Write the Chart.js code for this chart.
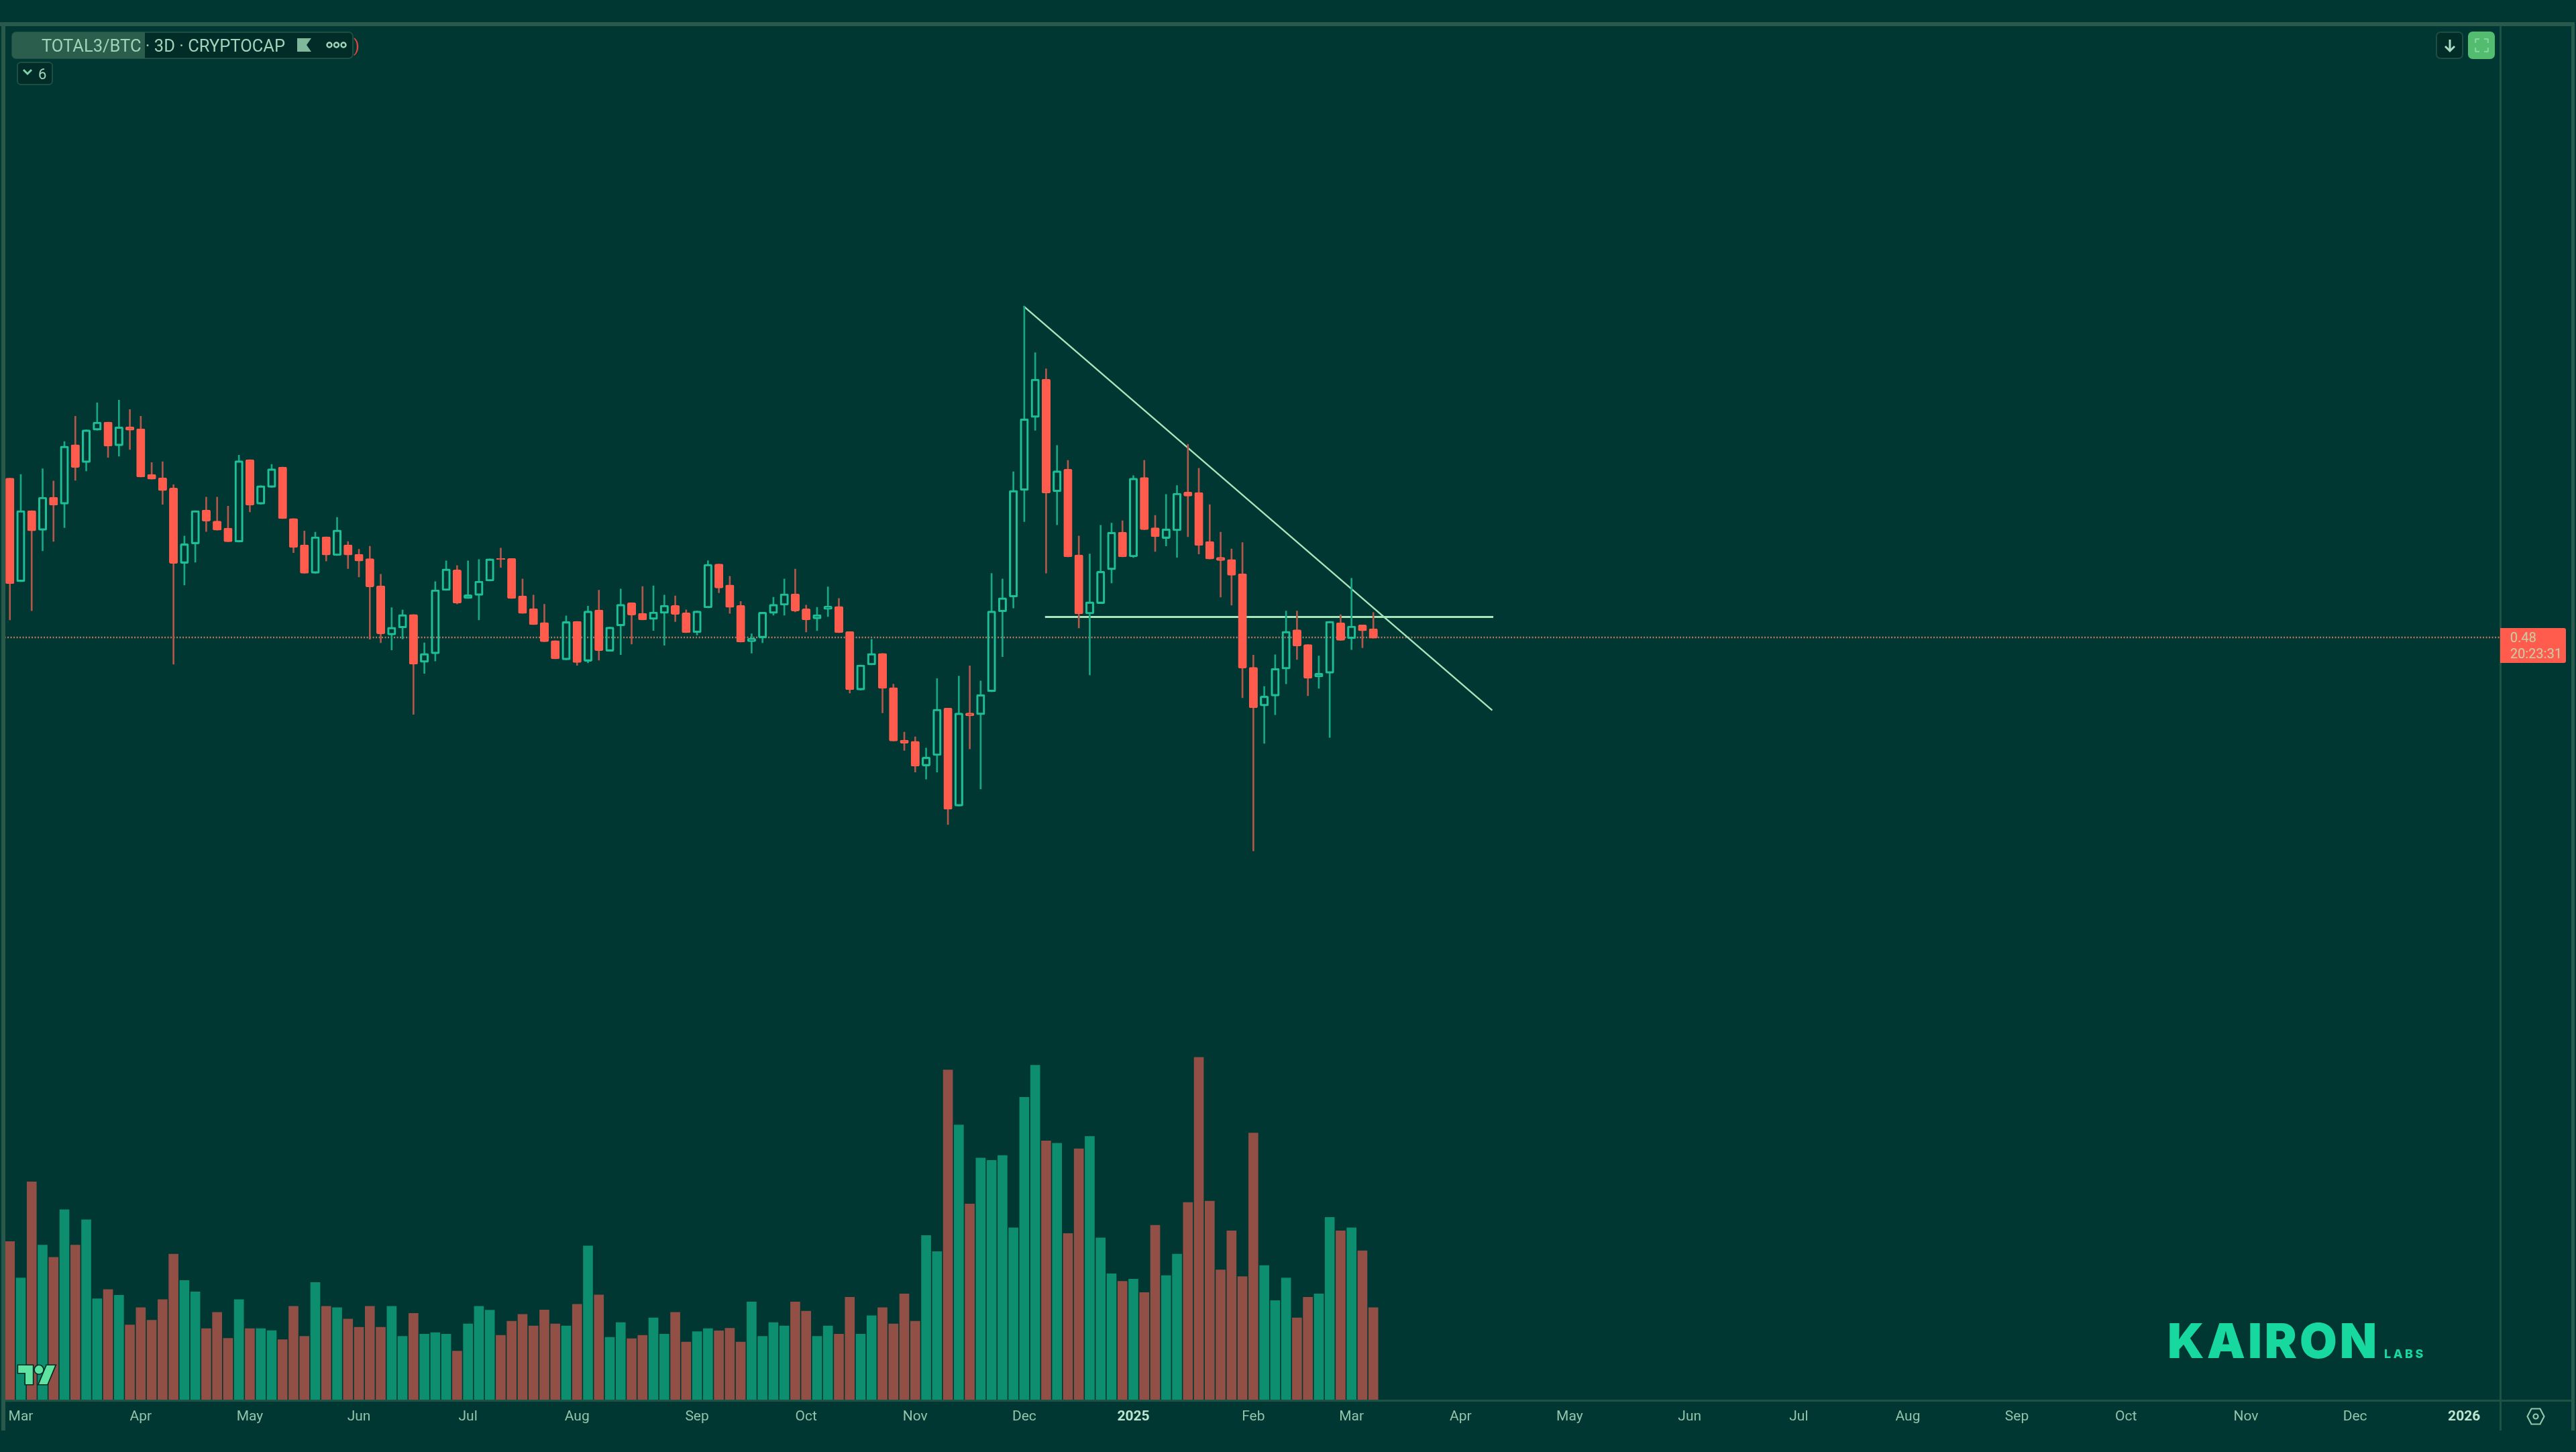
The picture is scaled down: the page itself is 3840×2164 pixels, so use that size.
<!DOCTYPE html>
<html>
<head>
<meta charset="utf-8">
<title>TOTAL3/BTC</title>
<script src="https://cdn.jsdelivr.net/npm/chart.js@4"></script>
<style>
  html, body { margin: 0; padding: 0; background: #013732; }
  #wrap { position: relative; width: 3840px; height: 2164px; overflow: hidden; font-family: Roboto, sans-serif; }
  #wrap canvas { position: absolute; left: 0; top: 0; }
  .abs { position: absolute; box-sizing: border-box; white-space: nowrap; }
  .frame { background: #28594a; }
</style>
</head>
<body>
<div id="wrap">
  <canvas id="myChart" width="3840" height="2164"></canvas>

  <div class="abs frame" style="left:0;top:33px;width:3838px;height:6px"></div>
  <div class="abs frame" style="left:2px;top:33px;width:6px;height:2099px"></div>
  <div class="abs frame" style="left:3833px;top:33px;width:5px;height:2099px"></div>
  <div class="abs" style="left:3726px;top:39px;width:3px;height:2093px;background:#1d5245"></div>
  <div class="abs" style="left:8px;top:2086px;width:3825px;height:3px;background:#1d5245"></div>

  <div class="abs" style="left:17px;top:47px;width:510px;height:41px;background:#012c28;border:2px solid #1d4e41;border-radius:7px"></div>
  <div class="abs" style="left:18px;top:48px;width:198px;height:39px;background:#2b5e4c;border-radius:6px 0 0 6px"></div>
  <div class="abs" style="left:62px;top:52px;font-size:25.500px;line-height:32px;color:#a0d3b8">TOTAL3/BTC · 3D · CRYPTOCAP</div>
  <svg class="abs" style="left:443px;top:56px" width="22" height="22"><path d="M0 1H21L14 11L21 21H0Z" fill="#7fb89b"/></svg>
  <svg class="abs" style="left:486px;top:60px" width="32" height="14"><g fill="none" stroke="#a0d3b8" stroke-width="2.500"><circle cx="5" cy="7" r="3.5"/><circle cx="15.500" cy="7" r="3.500"/><circle cx="26" cy="7" r="3.500"/></g></svg>
  <div class="abs" style="left:527px;top:52px;font-size:26px;line-height:32px;color:#e0453f">)</div>
  <div class="abs" style="left:25px;top:92px;width:54px;height:35px;background:#012c28;border:2px solid #1d4e41;border-radius:6px"></div>
  <svg class="abs" style="left:33px;top:102px" width="16" height="12"><path d="M2 2L8 8L14 2" fill="none" stroke="#7fd0ab" stroke-width="3"/></svg>
  <div class="abs" style="left:57px;top:97px;font-size:22px;line-height:28px;color:#a0d3b8">6</div>

  <div class="abs" style="left:3631px;top:47px;width:41px;height:41px;background:#012c28;border:2px solid #1d4e41;border-radius:7px"></div>
  <svg class="abs" style="left:3641px;top:57px" width="22" height="22"><path d="M11 2V19M4 12L11 19L18 12" fill="none" stroke="#a9dcc0" stroke-width="3"/></svg>
  <div class="abs" style="left:3679px;top:47px;width:40px;height:41px;background:#52bd6e;border-radius:7px"></div>
  <svg class="abs" style="left:3689px;top:57px" width="21" height="21"><path d="M1 7V3Q1 1 3 1H7M14 1H18Q20 1 20 3V7M20 14V18Q20 20 18 20H14M7 20H3Q1 20 1 18V14" fill="none" stroke="#86d49b" stroke-width="2.500"/></svg>

  <div class="abs" style="left:3727px;top:936px;width:98px;height:52px;background:#ff5c4d;border-radius:0 3px 3px 0"></div>
  <div class="abs" style="left:3742px;top:938px;font-size:20px;line-height:24px;color:#c9cba6">0.48</div>
  <div class="abs" style="left:3742px;top:962px;font-size:20px;line-height:24px;color:#c9cba6">20:23:31</div>

  <svg class="abs" style="left:3766px;top:2098px" width="28" height="26"><path d="M7.500 1.500H20.500L26.500 13L20.500 24.500H7.500L1.500 13Z" fill="none" stroke="#90c7a8" stroke-width="2.200"/><circle cx="14" cy="13" r="3.500" fill="none" stroke="#90c7a8" stroke-width="2.200"/></svg>

  <svg class="abs" style="left:25px;top:2032px" width="60" height="34" viewBox="-1 2 38 22"><g fill="#5fe3a0" stroke="#012c28" stroke-width="2.200" paint-order="stroke"><path d="M14 22H7V11H0V4h14v18zM28 22h-8l7.500-18h8L28 22z"/><circle cx="20" cy="8" r="4"/></g></svg>

  <div class="abs" style="left:3231px;top:1948px;font-family:Inter,sans-serif;font-weight:900;font-size:72px;line-height:100px;letter-spacing:4px;color:#17d9a0">KAIRON</div>
  <div class="abs" style="left:3554px;top:2006px;font-family:Inter,sans-serif;font-weight:800;font-size:18px;line-height:24px;letter-spacing:3.500px;color:#17d9a0">LABS</div>
</div>

<script>
const opens = [
  0.5987, 0.5216, 0.5744, 0.5598, 0.5845, 0.5793, 0.6236, 0.6103, 0.6344, 0.6405,
  0.6228, 0.6370, 0.6354, 0.6014, 0.5989, 0.5913, 0.5352, 0.5497, 0.5750, 0.5667,
  0.5614, 0.5511, 0.6125, 0.5793, 0.5918, 0.6069, 0.5686, 0.5490, 0.5278, 0.5550,
  0.5410, 0.5490, 0.5420, 0.5387, 0.5185, 0.4818, 0.4871, 0.4971, 0.4614, 0.4678,
  0.5150, 0.5303, 0.5091, 0.5113, 0.5220, 0.5388, 0.5388, 0.5109, 0.5015, 0.4911,
  0.4776, 0.4633, 0.4920, 0.4622, 0.5004, 0.4697, 0.4886, 0.5058, 0.4979, 0.4934,
  0.4979, 0.5038, 0.4983, 0.4836, 0.5020, 0.5347, 0.5191, 0.5038, 0.4768, 0.4797,
  0.4979, 0.5040, 0.5125, 0.5013, 0.4938, 0.5009, 0.5031, 0.4843, 0.4408, 0.4595,
  0.4681, 0.4426, 0.4035, 0.4026, 0.3842, 0.3920, 0.4273, 0.3543, 0.4237, 0.4224,
  0.4396, 0.4991, 0.5101, 0.5896, 0.6439, 0.6725, 0.5886, 0.6053, 0.5414, 0.4975,
  0.5052, 0.5304, 0.5584, 0.5400, 0.5992, 0.5617, 0.5537, 0.5595, 0.5883, 0.5880,
  0.5515, 0.5397, 0.5381, 0.5274, 0.4577, 0.4289, 0.4363, 0.4564, 0.4857, 0.4747,
  0.4506, 0.4533, 0.4909, 0.4791, 0.4893, 0.4865,
];
const closes = [
  0.5200, 0.5745, 0.5594, 0.5845, 0.5785, 0.6226, 0.6067, 0.6347, 0.6405, 0.6226,
  0.6369, 0.6344, 0.5996, 0.5979, 0.5894, 0.5352, 0.5498, 0.5745, 0.5667, 0.5599,
  0.5513, 0.6117, 0.5785, 0.5931, 0.6057, 0.5686, 0.5470, 0.5278, 0.5550, 0.5414,
  0.5601, 0.5414, 0.5369, 0.5177, 0.4827, 0.4876, 0.4971, 0.4601, 0.4681, 0.5155,
  0.5311, 0.5056, 0.5118, 0.5220, 0.5386, 0.5381, 0.5091, 0.4979, 0.4895, 0.4768,
  0.4640, 0.4918, 0.4613, 0.4997, 0.4702, 0.4877, 0.5047, 0.4967, 0.4931, 0.4990,
  0.5040, 0.4972, 0.4836, 0.4997, 0.5345, 0.5168, 0.5024, 0.4765, 0.4793, 0.4988,
  0.5047, 0.5125, 0.4997, 0.4931, 0.4970, 0.5033, 0.4836, 0.4411, 0.4595, 0.4681,
  0.4420, 0.4028, 0.4012, 0.3840, 0.3908, 0.4265, 0.3519, 0.4237, 0.4215, 0.4374,
  0.4997, 0.5096, 0.5896, 0.6429, 0.6725, 0.5875, 0.6042, 0.5400, 0.4975, 0.5066,
  0.5293, 0.5584, 0.5400, 0.5987, 0.5603, 0.5551, 0.5609, 0.5875, 0.5853, 0.5485,
  0.5384, 0.5373, 0.5263, 0.4572, 0.4276, 0.4363, 0.4569, 0.4846, 0.4736, 0.4495,
  0.4533, 0.4920, 0.4778, 0.4885, 0.4849, 0.4794,
];
const highs = [
  0.5987, 0.6015, 0.5744, 0.6057, 0.5966, 0.6259, 0.6448, 0.6347, 0.6548, 0.6405,
  0.6568, 0.6498, 0.6448, 0.6103, 0.6110, 0.5938, 0.5556, 0.5745, 0.5846, 0.5846,
  0.5778, 0.6158, 0.6125, 0.5931, 0.6090, 0.6069, 0.5686, 0.5593, 0.5584, 0.5550,
  0.5694, 0.5515, 0.5457, 0.5480, 0.5271, 0.5022, 0.5004, 0.4971, 0.4760, 0.5216,
  0.5371, 0.5336, 0.5371, 0.5381, 0.5386, 0.5466, 0.5388, 0.5236, 0.5116, 0.5047,
  0.4776, 0.4961, 0.4920, 0.5033, 0.5152, 0.4877, 0.5161, 0.5058, 0.5179, 0.5184,
  0.5116, 0.5109, 0.5006, 0.4997, 0.5372, 0.5347, 0.5256, 0.5068, 0.4827, 0.4988,
  0.5099, 0.5236, 0.5309, 0.5041, 0.5024, 0.5177, 0.5091, 0.4843, 0.4595, 0.4786,
  0.4681, 0.4452, 0.4094, 0.4060, 0.3976, 0.4493, 0.4273, 0.4512, 0.4588, 0.4476,
  0.5277, 0.5236, 0.6034, 0.7268, 0.6922, 0.6802, 0.6231, 0.6119, 0.5556, 0.5422,
  0.5636, 0.5652, 0.5669, 0.6006, 0.6119, 0.5710, 0.5866, 0.5932, 0.6239, 0.6061,
  0.5790, 0.5584, 0.5460, 0.5507, 0.4668, 0.4435, 0.4671, 0.4997, 0.4997, 0.4747,
  0.4662, 0.4920, 0.4970, 0.5241, 0.4893, 0.4986,
];
const lows = [
  0.4930, 0.5216, 0.4999, 0.5445, 0.5515, 0.5618, 0.5971, 0.6040, 0.6344, 0.6142,
  0.6150, 0.6200, 0.5996, 0.5979, 0.5792, 0.4601, 0.5191, 0.5361, 0.5589, 0.5599,
  0.5513, 0.5511, 0.5735, 0.5793, 0.5918, 0.5686, 0.5432, 0.5278, 0.5278, 0.5369,
  0.5410, 0.5313, 0.5251, 0.4787, 0.4760, 0.4707, 0.4789, 0.4227, 0.4532, 0.4624,
  0.5150, 0.5049, 0.5091, 0.4931, 0.5220, 0.5322, 0.5091, 0.4979, 0.4895, 0.4768,
  0.4640, 0.4633, 0.4592, 0.4610, 0.4631, 0.4697, 0.4672, 0.4751, 0.4931, 0.4852,
  0.4742, 0.4918, 0.4836, 0.4818, 0.5020, 0.5133, 0.4979, 0.4765, 0.4683, 0.4761,
  0.4965, 0.4965, 0.4990, 0.4840, 0.4850, 0.4956, 0.4836, 0.4386, 0.4408, 0.4595,
  0.4238, 0.4028, 0.3958, 0.3797, 0.3744, 0.3797, 0.3406, 0.3543, 0.3969, 0.3670,
  0.4396, 0.4657, 0.5019, 0.5663, 0.6343, 0.5279, 0.5639, 0.5400, 0.4871, 0.4520,
  0.5052, 0.5205, 0.5400, 0.5395, 0.5603, 0.5441, 0.5482, 0.5397, 0.5551, 0.5422,
  0.5384, 0.5101, 0.5041, 0.4350, 0.3209, 0.4010, 0.4224, 0.4454, 0.4635, 0.4366,
  0.4421, 0.4054, 0.4778, 0.4709, 0.4723, 0.4794,
];
const volumes = [
  615, 474, 846, 601, 554, 738, 601, 699, 393, 429,
  407, 292, 359, 310, 390, 566, 464, 420, 278, 341,
  240, 390, 278, 278, 270, 235, 364, 248, 456, 364,
  359, 315, 283, 364, 283, 364, 248, 337, 256, 262,
  256, 191, 296, 364, 349, 252, 306, 333, 288, 350,
  296, 288, 372, 598, 408, 244, 301, 239, 252, 319,
  256, 341, 226, 266, 278, 269, 279, 226, 381, 248,
  301, 288, 381, 345, 248, 288, 256, 399, 256, 328,
  359, 296, 412, 306, 638, 576, 1279, 1066, 760, 938,
  929, 948, 668, 1173, 1297, 1004, 995, 646, 974, 1022,
  629, 490, 461, 469, 417, 678, 483, 566, 766, 1328,
  771, 505, 656, 479, 1035, 522, 386, 474, 319, 399,
  412, 708, 656, 668, 579, 359,
];

// candle index of the first 3D bar in each month, same order as tickLabels
const tickBars = [1, 12, 22, 32, 42, 52, 63, 73, 83, 93, 103, 114, 123, 133, 143, 154, 164, 174, 184, 194, 205, 215, 225];
const tickLabels = ["Mar", "Apr", "May", "Jun", "Jul", "Aug", "Sep", "Oct", "Nov", "Dec", "2025", "Feb", "Mar", "Apr", "May", "Jun", "Jul", "Aug", "Sep", "Oct", "Nov", "Dec", "2026"];

const lastPrice = 0.48;
const trendBars = [92.94, 135.9];
const trendPrices = [0.7268, 0.4257];
const levelBars = [94.9, 136];
const levelPrice = 0.4953;

const isUp = opens.map((open, i) => closes[i] >= open);

const UP = "#1ebf97";
const DOWN = "#ff5c4d";
const UP_WICK = "#17a884";
const DOWN_WICK = "#b5564a";
const UP_VOL = "#0c8e6f";
const DOWN_VOL = "#914f45";
const LINE = "#a5e6bb";

function barColors(up, down) {
  return isUp.map((flag) => (flag ? up : down));
}

function lineData(xs, ys) {
  return xs.map((x, i) => ({ x: x, y: ys[i] }));
}

function isYearTick(context) {
  if (!context.tick) {
    return false;
  }
  return tickLabels[tickBars.indexOf(context.tick.value)].length === 4;
}

const ctx = document.getElementById("myChart").getContext("2d");

new Chart(ctx, {
  data: {
    datasets: [
      {
        type: "line",
        order: 9,
        data: lineData([-0.5, 228.37], [lastPrice, lastPrice]),
        borderColor: "#b8775f",
        borderWidth: 2.5,
        borderDash: [2, 2.5],
        pointRadius: 0,
        yAxisID: "y",
      },
      {
        type: "line",
        order: 8,
        data: lineData(trendBars, trendPrices),
        borderColor: LINE,
        borderWidth: 2.5,
        pointRadius: 0,
        yAxisID: "y",
      },
      {
        type: "line",
        order: 8,
        data: lineData(levelBars, [levelPrice, levelPrice]),
        borderColor: LINE,
        borderWidth: 3,
        pointRadius: 0,
        yAxisID: "y",
      },
      {
        type: "bar",
        order: 7,
        data: volumes.map((v, i) => ({ x: i, y: v })),
        backgroundColor: barColors(UP_VOL, DOWN_VOL),
        barThickness: 14,
        grouped: false,
        yAxisID: "y2",
      },
      {
        type: "bar",
        order: 3,
        data: highs.map((h, i) => ({ x: i, y: [Math.max(opens[i], closes[i]), h] })),
        backgroundColor: barColors(UP_WICK, DOWN_WICK),
        barThickness: 2,
        grouped: false,
        yAxisID: "y",
      },
      {
        type: "bar",
        order: 3,
        data: lows.map((l, i) => ({ x: i, y: [l, Math.min(opens[i], closes[i])] })),
        backgroundColor: barColors(UP_WICK, DOWN_WICK),
        barThickness: 2,
        grouped: false,
        yAxisID: "y",
      },
      {
        type: "bar",
        order: 2,
        data: opens.map((o, i) => ({ x: i, y: [o, closes[i]] })),
        backgroundColor: barColors("rgba(0, 0, 0, 0)", DOWN),
        borderColor: barColors(UP, DOWN),
        borderWidth: 2.5,
        borderSkipped: false,
        borderRadius: 2,
        barThickness: 12.5,
        grouped: false,
        yAxisID: "y",
      },
    ],
  },
  options: {
    responsive: false,
    animation: false,
    layout: { padding: { left: 6.6, right: 112, top: 38, bottom: 0 } },
    plugins: { legend: { display: false }, tooltip: { enabled: false } },
    scales: {
      x: {
        type: "linear",
        offset: false,
        min: -0.5,
        max: 228.37,
        grid: { display: false, drawTicks: false },
        border: { display: false },
        afterBuildTicks: function (scale) {
          scale.ticks = tickBars.map((bar) => ({ value: bar }));
        },
        afterFit: function (scale) {
          scale.height = 77;
        },
        ticks: {
          autoSkip: false,
          maxRotation: 0,
          padding: 12,
          callback: function (value) {
            return tickLabels[tickBars.indexOf(value)];
          },
          color: function (context) {
            return isYearTick(context) ? "#bde6cf" : "#93c4ab";
          },
          font: function (context) {
            return { family: "Roboto", size: 21, weight: isYearTick(context) ? "bold" : "normal" };
          },
        },
      },
      y: {
        display: false,
        min: -0.0885,
        max: 0.936,
      },
      y2: {
        display: false,
        min: 0,
        max: 5322,
      },
    },
  },
});
</script>
</body>
</html>
